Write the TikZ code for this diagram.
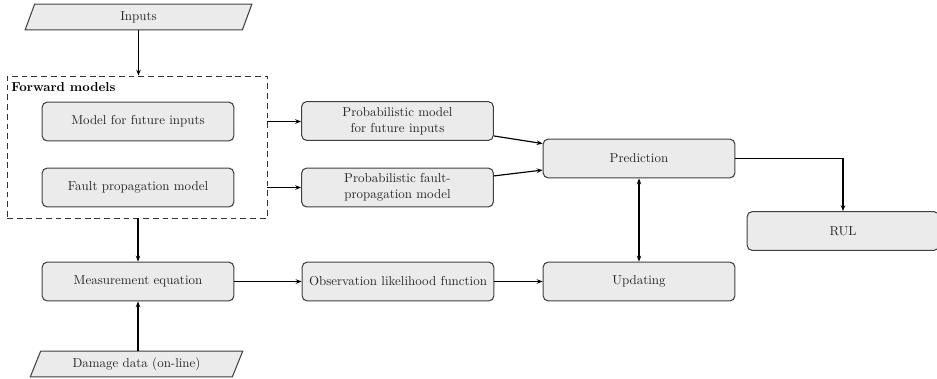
\documentclass[tikz,border=0pt]{standalone}
\usetikzlibrary{shapes.geometric,arrows.meta}
\begin{document}
\begin{tikzpicture}[x=0.7716pt,y=-0.7716pt,
  block/.style={draw=black!75,fill=black!8,line width=0.8pt,rounded corners=4pt,
    minimum width=148pt,minimum height=30pt,align=center,inner sep=2pt,text=black!85},
  io/.style={trapezium,trapezium left angle=60,trapezium right angle=120,
    trapezium stretches body,draw=black!75,fill=black!8,line width=0.8pt,
    minimum height=20pt,inner sep=2pt,text=black!85},
  flow/.style={line width=0.9pt,-{Stealth[length=4.5pt,width=3.5pt]}},
  both/.style={line width=0.9pt,{Stealth[length=4.5pt,width=3.5pt]}-{Stealth[length=4.5pt,width=3.5pt]}},
  group/.style={draw=black!80,dash pattern=on 4.5pt off 3pt,line width=0.7pt,
    minimum width=200.6pt,minimum height=109.6pt,inner sep=0pt}]
\useasboundingbox (0,0) rectangle (937,378);

% inputs and the forward-model group
\node[io,minimum width=175pt] (in) at (138.5,17) {Inputs};
\node[group] (fw) at (137,147) {};
\node[anchor=west,inner sep=0pt,font=\bfseries] (fwlabel) at (11,87.5) {Forward models};
\node[block] (mfi) at (138,121.5) {Model for future inputs};
\node[block] (fpm) at (138,187.5) {Fault propagation model};

% probabilistic models
\node[block] (pmfi) at (397.5,121) {Probabilistic model\\for future inputs};
\node[block] (pfpm) at (397.5,187.5) {Probabilistic fault-\\propagation model};

% prediction, updating and result
\node[block] (pred) at (639,158.5) {Prediction};
\node[block] (rul) at (843,231) {RUL};
\node[block] (upd) at (639,281.5) {Updating};

% measurement branch
\node[block] (meas) at (138,281.5) {Measurement equation};
\node[block] (obs) at (398,281.5) {Observation likelihood function};
\node[io,minimum width=164pt] (dd) at (136.5,364) {Damage data (on-line)};

% connectors
\draw[flow] (in.south) -- (in.south |- fw.north);
\draw[flow] (fw.east |- mfi) -- (pmfi.west |- mfi);
\draw[flow] (fw.east |- fpm) -- (pfpm.west |- fpm);
\draw[flow] (pmfi) -- (pred);
\draw[flow] (pfpm) -- (pred);
\draw[flow] (fw.south -| meas) -- (meas.north);
\draw[flow] (dd.north -| meas) -- (meas.south);
\draw[flow] (meas) -- (obs);
\draw[flow] (obs) -- (upd);
\draw[both] (pred) -- (upd);
\draw[flow] (pred.east) -| (rul.north);
\end{tikzpicture}
\end{document}
